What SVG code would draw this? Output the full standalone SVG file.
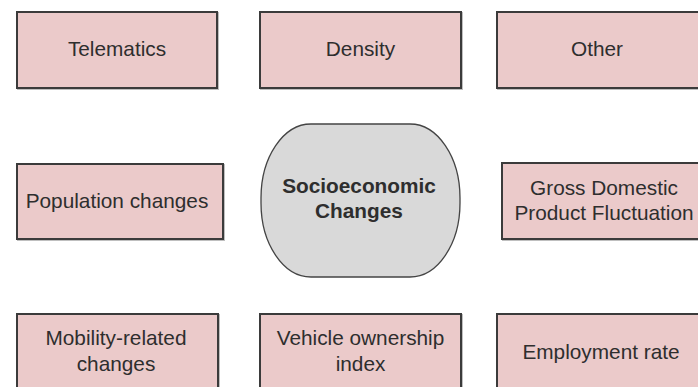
<svg xmlns="http://www.w3.org/2000/svg" width="698" height="387" viewBox="0 0 698 387">
<defs>
<filter id="sh" x="-5%" y="-5%" width="110%" height="110%">
<feDropShadow dx="1" dy="1" stdDeviation="0.6" flood-color="#000" flood-opacity="0.25"/>
</filter>
<style>
.box{fill:#ebcaca;stroke:#3a3a3a;stroke-width:2;filter:url(#sh)}
.core{fill:#d9d9d9;stroke:#444;stroke-width:1.3}
.t{font-family:"Liberation Sans",Arial,sans-serif;font-size:20.8px;fill:#2e2e2e;text-anchor:middle}
.b{font-weight:bold}
</style>
</defs>
<rect width="698" height="387" fill="#ffffff"/>
<g id="connectors"></g>
<g id="telematics"><rect class="box" x="17" y="12" width="200" height="76"/><text class="t" x="117" y="56">Telematics</text></g>
<g id="density"><rect class="box" x="260" y="12" width="201" height="76"/><text class="t" x="360.5" y="56">Density</text></g>
<g id="other"><rect class="box" x="497" y="12" width="203" height="76"/><text class="t" x="597" y="56">Other</text></g>
<g id="population"><rect class="box" x="17" y="164" width="206" height="75"/><text class="t" x="117" y="208">Population changes</text></g>
<g id="socioeconomic"><rect class="core" x="261" y="124" width="199" height="153" rx="50" ry="74"/><text class="t b" x="359" y="193">Socioeconomic</text><text class="t b" x="359" y="218">Changes</text></g>
<g id="gdp"><rect class="box" x="502" y="163" width="206" height="76"/><text class="t" x="604" y="195">Gross Domestic</text><text class="t" x="604" y="220">Product Fluctuation</text></g>
<g id="mobility"><rect class="box" x="17" y="314" width="201" height="80"/><text class="t" x="116" y="345">Mobility-related</text><text class="t" x="116" y="371">changes</text></g>
<g id="vehicle"><rect class="box" x="260" y="314" width="201" height="80"/><text class="t" x="360.5" y="345">Vehicle ownership</text><text class="t" x="360.5" y="371">index</text></g>
<g id="employment"><rect class="box" x="497" y="314" width="210" height="80"/><text class="t" x="601" y="359">Employment rate</text></g>
</svg>
